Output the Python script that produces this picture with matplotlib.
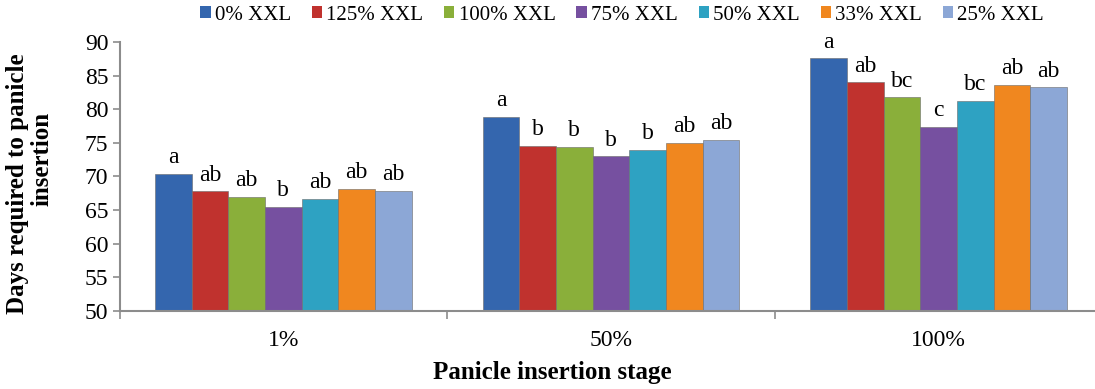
import numpy as np
import matplotlib
matplotlib.use('Agg')
import matplotlib.pyplot as plt
from matplotlib.patches import Patch

# Data
stages = ['1%', '50%', '100%']
treatments = ['0% XXL', '125% XXL', '100% XXL', '75% XXL', '50% XXL', '33% XXL', '25% XXL']
colors = ['#3466AE', '#C0322E', '#8AAF3A', '#7650A0', '#2EA2C2', '#F0871F', '#8CA7D6']

days_0 = [70.4, 78.9, 87.6]
days_125 = [67.8, 74.6, 84.0]
days_100 = [67.0, 74.4, 81.75]
days_75 = [65.5, 73.0, 77.4]
days_50 = [66.7, 74.0, 81.3]
days_33 = [68.2, 75.0, 83.6]
days_25 = [67.9, 75.5, 83.3]
series = [days_0, days_125, days_100, days_75, days_50, days_33, days_25]

letters_0 = ['a', 'a', 'a']
letters_125 = ['ab', 'b', 'ab']
letters_100 = ['ab', 'b', 'bc']
letters_75 = ['b', 'b', 'c']
letters_50 = ['ab', 'b', 'bc']
letters_33 = ['ab', 'ab', 'ab']
letters_25 = ['ab', 'ab', 'ab']
letters = [letters_0, letters_125, letters_100, letters_75, letters_50, letters_33, letters_25]

plt.rcParams['font.family'] = ['Liberation Serif', 'DejaVu Serif']

fig = plt.figure(figsize=(10.95, 3.89), dpi=100)
ax = fig.add_axes([119.5 / 1095, 78 / 389, 983 / 1095, 269 / 389])

x = np.arange(len(stages))
width = 0.112
for i, vals in enumerate(series):
    bars = ax.bar(x + (i - 3) * width, vals, width, color=colors[i],
                  edgecolor='#6a6a6a', linewidth=0.4, zorder=2)
    ax.bar_label(bars, labels=letters[i], padding=4, fontsize=17)

ax.set_ylim(50, 90)
ax.set_xlim(-0.5, 2.5)
ax.set_yticks(np.arange(50, 91, 5))
ax.set_xticks(x)
ax.set_xticklabels(stages)
ax.set_xticks([-0.5, 0.5, 1.5, 2.5], minor=True)

ax.tick_params(axis='y', labelsize=17, length=5, color='#8c8c8c', width=1.2, pad=3)
ax.tick_params(axis='x', which='major', labelsize=17, length=0, pad=14)
ax.tick_params(axis='x', which='minor', length=6, color='#8c8c8c', width=1.2)

for side in ['top', 'right']:
    ax.spines[side].set_visible(False)
for side in ['left', 'bottom']:
    ax.spines[side].set_color('#8c8c8c')
    ax.spines[side].set_linewidth(1.5)

fig.text(552 / 1095, 1 - 373 / 389, 'Panicle insertion stage', fontsize=18,
         fontweight='bold', ha='center', va='center')
fig.text(18 / 1095, 1 - 184 / 389, 'Days required to panicle', fontsize=18,
         fontweight='bold', ha='center', va='center', rotation=90)
fig.text(42 / 1095, 1 - 159 / 389, 'insertion', fontsize=18,
         fontweight='bold', ha='center', va='center', rotation=90)

handles = [Patch(facecolor=c, edgecolor='none') for c in colors]
fig.legend(handles, treatments, loc='center', ncol=7,
           bbox_to_anchor=(622 / 1095, 1 - 15 / 389), frameon=False,
           fontsize=15, handlelength=0.5, handleheight=0.5,
           handletextpad=0.2, columnspacing=1.0)

plt.savefig('out.png', dpi=100)
